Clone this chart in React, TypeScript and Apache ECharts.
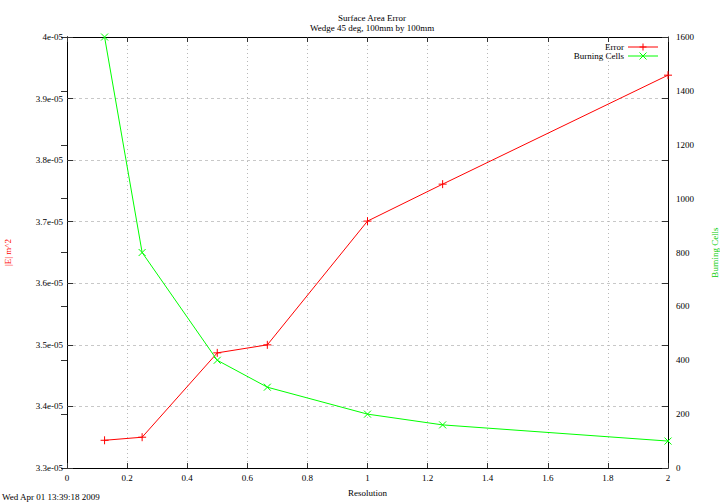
import React, { useEffect, useRef } from "react";
import * as echarts from "echarts";

const resolutions = [0.125, 0.25, 0.5, 0.6667, 1, 1.25, 2];
const errorValues = [3.345e-5, 3.35e-5, 3.487e-5, 3.5e-5, 3.701e-5, 3.761e-5, 3.938e-5];
const burningCells = [1600, 800, 400, 300, 200, 160, 100];
const seriesNames = ["Error", "Burning Cells"];
const seriesColors = ["#ff0000", "#00ff00"];
const titleText = "Surface Area Error";
const subtitleText = "Wedge 45 deg, 100mm by 100mm";
const xAxisName = "Resolution";
const yAxisName = "|E| m^2";
const y2AxisName = "Burning Cells";
const timestamp = "Wed Apr 01 13:39:18 2009";

const FONT = "Liberation Serif";
const SCALE = 1e5;

function legendItem(i: number, y: number, marker: "plus" | "cross") {
  const c = seriesColors[i];
  const mx = 643;
  const s = 3.5;
  const markerEls =
    marker === "plus"
      ? [
          { type: "line", shape: { x1: mx - s, y1: y, x2: mx + s, y2: y }, style: { stroke: c, lineWidth: 1 } },
          { type: "line", shape: { x1: mx, y1: y - s, x2: mx, y2: y + s }, style: { stroke: c, lineWidth: 1 } },
        ]
      : [
          { type: "line", shape: { x1: mx - s, y1: y - s, x2: mx + s, y2: y + s }, style: { stroke: c, lineWidth: 1 } },
          { type: "line", shape: { x1: mx + s, y1: y - s, x2: mx - s, y2: y + s }, style: { stroke: c, lineWidth: 1 } },
        ];
  return [
    {
      type: "text",
      x: 624,
      y,
      style: {
        text: seriesNames[i],
        fontFamily: FONT,
        fontSize: 9,
        fill: "#000",
        align: "right",
        verticalAlign: "middle",
      },
    },
    { type: "line", shape: { x1: 628, y1: y, x2: 658, y2: y }, style: { stroke: c, lineWidth: 1 } },
    ...markerEls,
  ];
}

export default function App() {
  const ref = useRef<HTMLDivElement>(null);
  useEffect(() => {
    if (!ref.current) return;
    const chart = echarts.init(ref.current, undefined, { renderer: "svg" });
    const plus = "path://M5,0V10M0,5H10";
    const cross = "path://M0,0L10,10M10,0L0,10";
    const tickStyle = { color: "#333", width: 1 };
    const lineStyle = { color: "#000", width: 1 };
    const label = { fontFamily: FONT, fontSize: 9, color: "#000" };
    chart.setOption({
      animation: false,
      backgroundColor: "#fff",
      textStyle: { fontFamily: FONT },
      title: {
        text: titleText,
        subtext: subtitleText,
        left: 367,
        top: 8,
        textAlign: "center",
        itemGap: 1,
        textStyle: { fontFamily: FONT, fontSize: 9, fontWeight: "normal", color: "#000" },
        subtextStyle: { fontFamily: FONT, fontSize: 9, color: "#000" },
      },
      graphic: [
        {
          type: "text",
          left: 2,
          top: 492,
          style: { text: timestamp, fontFamily: FONT, fontSize: 9, fill: "#000" },
        },
        ...legendItem(0, 47, "plus"),
        ...legendItem(1, 56, "cross"),
      ],
      grid: { left: 67, right: 52, top: 37, bottom: 36, containLabel: false, outerBoundsMode: "none" },
      xAxis: [
        {
          type: "value",
          min: 0,
          max: 2,
          interval: 0.2,
          position: "bottom",
          name: xAxisName,
          nameLocation: "middle",
          nameGap: 20,
          nameTextStyle: { fontFamily: FONT, fontSize: 9, color: "#000" },
          axisLine: { show: true, lineStyle },
          axisTick: { show: true, inside: true, length: 5, lineStyle: tickStyle },
          axisLabel: { ...label, margin: 5, formatter: (v: number) => String(Math.round(v * 10) / 10) },
          splitLine: { show: true, lineStyle: { color: "#b8b8b8", type: [1, 3], width: 1 } },
        },
        {
          type: "value",
          min: 0,
          max: 2,
          interval: 0.2,
          position: "top",
          axisLine: { show: true, lineStyle },
          axisTick: { show: true, inside: true, length: 5, lineStyle: tickStyle },
          axisLabel: { show: false },
          splitLine: { show: false },
        },
      ],
      yAxis: [
        {
          type: "value",
          min: 3.3,
          max: 4.0,
          interval: 0.1,
          position: "left",
          name: yAxisName,
          nameLocation: "middle",
          nameGap: 55,
          nameRotate: 90,
          nameTextStyle: { fontFamily: FONT, fontSize: 9, color: "#ff0000" },
          axisLine: { show: true, lineStyle },
          axisTick: { show: true, inside: true, length: 6, lineStyle: tickStyle },
          axisLabel: {
            ...label,
            margin: 4,
            formatter: (v: number) => {
              const r = Math.round(v * 10) / 10;
              return `${r}e-05`;
            },
          },
          splitLine: { show: true, lineStyle: { color: "#c8c8c8", type: [3, 3], width: 1 } },
        },
        {
          type: "value",
          min: 0,
          max: 1600,
          interval: 200,
          position: "right",
          name: y2AxisName,
          nameLocation: "middle",
          nameGap: 42,
          nameRotate: 90,
          nameTextStyle: { fontFamily: FONT, fontSize: 9, color: "#00cc00" },
          axisLine: { show: true, lineStyle },
          axisTick: { show: true, inside: true, length: 6, lineStyle: tickStyle },
          axisLabel: { ...label, margin: 8, formatter: (v: number) => String(v) },
          splitLine: { show: false },
        },
        {
          type: "value",
          min: 3.3,
          max: 4.0,
          interval: 0.1,
          position: "right",
          axisLine: { show: true, lineStyle },
          axisTick: { show: true, inside: true, length: 6, lineStyle: tickStyle },
          axisLabel: { show: false },
          splitLine: { show: false },
        },
      ],
      series: [
        {
          name: seriesNames[0],
          type: "line",
          xAxisIndex: 0,
          yAxisIndex: 0,
          data: resolutions.map((x, i) => [x, errorValues[i] * SCALE]),
          symbol: plus,
          symbolSize: 8,
          lineStyle: { color: seriesColors[0], width: 1 },
          itemStyle: { color: seriesColors[0], borderColor: seriesColors[0], borderWidth: 1 },
        },
        {
          name: seriesNames[1],
          type: "line",
          xAxisIndex: 0,
          yAxisIndex: 1,
          data: resolutions.map((x, i) => [x, burningCells[i]]),
          symbol: cross,
          symbolSize: 7,
          lineStyle: { color: seriesColors[1], width: 1 },
          itemStyle: { color: seriesColors[1], borderColor: seriesColors[1], borderWidth: 1 },
        },
      ],
    });
    return () => chart.dispose();
  }, []);
  return <div ref={ref} style={{ width: 720, height: 504, position: "absolute", left: 0, top: 0 }} />;
}
